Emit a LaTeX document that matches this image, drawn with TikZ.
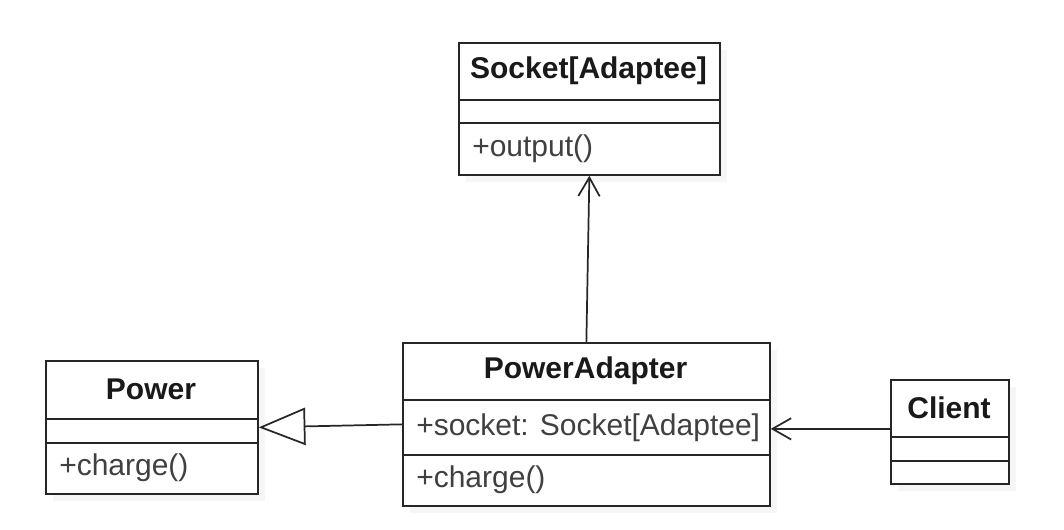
\documentclass[tikz,border=0pt]{standalone}
\usepackage{fontspec}
\setmainfont{Liberation Sans}
\usetikzlibrary{arrows.meta,shadows}
\begin{document}
\begin{tikzpicture}[x=0.75pt,y=-0.75pt,
  umlbox/.style={draw=black!85, line width=1.3pt, fill=white, inner sep=0pt, anchor=north west,
    drop shadow={opacity=0.07, shadow xshift=5pt, shadow yshift=-5pt}},
  sep/.style={draw=black!85, line width=1.3pt},
  title/.style={font=\fontsize{22.5}{27}\selectfont\bfseries, text=black!90, inner sep=0pt},
  member/.style={font=\fontsize{22.5}{27}\selectfont, text=black!75, anchor=west, inner sep=0pt},
  assoc/.style={draw=black!85, line width=1.3pt, -{Straight Barb[length=14pt,width=16pt,line width=1.3pt]}},
  gen/.style={draw=black!85, line width=1.3pt, -{Triangle[open, length=35pt, width=28pt, fill=white, line width=1.3pt]}}
]
\useasboundingbox (0,0) rectangle (1064,530);

% Socket
\node[umlbox, minimum width={261*0.75pt}, minimum height={132*0.75pt}] (socket) at (458,42) {};
\draw[sep] (socket.west |- 0,100) -- (socket.east |- 0,100);
\draw[sep] (socket.west |- 0,123) -- (socket.east |- 0,123);
\node[title] (sockett) at (588.5,71) {Socket[Adaptee]};
\node[member] (socketm) at (472,148.5) {+output()};

% Power
\node[umlbox, minimum width={212*0.75pt}, minimum height={133*0.75pt}] (power) at (45,360) {};
\draw[sep] (power.west |- 0,419) -- (power.east |- 0,419);
\draw[sep] (power.west |- 0,443) -- (power.east |- 0,443);
\node[title] (powert) at (151,389.5) {Power};
\node[member] (powerm) at (59,468) {+charge()};

% PowerAdapter
\node[umlbox, minimum width={367*0.75pt}, minimum height={163*0.75pt}] (pa) at (402,342) {};
\draw[sep] (pa.west |- 0,400) -- (pa.east |- 0,400);
\draw[sep] (pa.west |- 0,455) -- (pa.east |- 0,455);
\node[title] (pat) at (585.5,371) {PowerAdapter};
\node[member] (paa) at (416,427.5) {+socket: Socket[Adaptee]};
\node[member] (pam) at (416,480) {+charge()};

% Client
\node[umlbox, minimum width={118*0.75pt}, minimum height={104*0.75pt}] (client) at (890,379) {};
\draw[sep] (client.west |- 0,437) -- (client.east |- 0,437);
\draw[sep] (client.west |- 0,461) -- (client.east |- 0,461);
\node[title] (clientt) at (949,408) {Client};

% connectors
\draw[assoc] (pa.north) -- (socket.south);
\draw[gen] (pa.west) -- (power.east);
\draw[assoc] ([yshift=2.25pt]client.west) -- ([yshift=2.25pt]client.west -| pa.east);
\end{tikzpicture}
\end{document}
